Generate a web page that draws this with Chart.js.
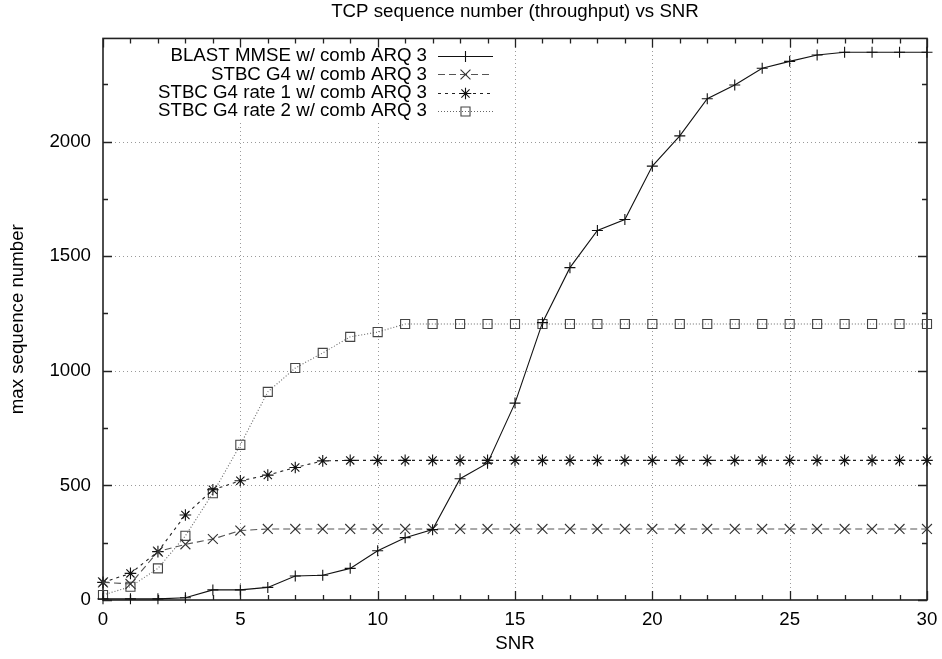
<!DOCTYPE html>
<html><head><meta charset="utf-8">
<script src="https://cdn.jsdelivr.net/npm/chart.js@4.4.1/dist/chart.umd.min.js"></script>
<style>html,body{margin:0;padding:0;background:#fff;}#wrap{width:942px;height:659px;}</style>
</head><body><div id="wrap"><canvas id="c" width="942" height="659"></canvas></div>
<script>
// ---- data ----
const snr = [0,1,2,3,4,5,6,7,8,9,10,11,12,13,14,15,16,17,18,19,20,21,22,23,24,25,26,27,28,29,30];
const blastMmse = [5,5,5,10,44,44,55,105,108,138,215,272,307,529,597,859,1210,1450,1612,1660,1893,2025,2187,2247,2320,2350,2378,2390,2390,2390,2390];
const stbcG4 = [77,70,211,243,266,303,310,310,310,310,310,310,310,310,310,310,310,310,310,310,310,310,310,310,310,310,310,310,310,310,310];
const stbcG4Rate1 = [77,116,211,371,481,520,545,578,607,609,609,609,609,609,609,609,609,609,609,609,609,609,609,609,609,609,609,609,609,609,609];
const stbcG4Rate2 = [22,58,138,280,466,677,908,1012,1078,1148,1169,1204,1204,1204,1204,1204,1204,1204,1204,1204,1204,1204,1204,1204,1204,1204,1204,1204,1204,1204,1204];
const seriesNames = ['BLAST MMSE w/ comb ARQ 3','STBC G4 w/ comb ARQ 3','STBC G4 rate 1 w/ comb ARQ 3','STBC G4 rate 2 w/ comb ARQ 3'];
const xTicks = [0,5,10,15,20,25,30];
const yTicks = [0,500,1000,1500,2000];
const xMinorTicks = [1,2,3,4,6,7,8,9,11,12,13,14,16,17,18,19,21,22,23,24,26,27,28,29];
const yMinorTicks = [250,750,1250,1750,2250];
const titleText = 'TCP sequence number (throughput) vs SNR';
const xTitle = 'SNR';
const yTitle = 'max sequence number';

const FONT = "'Liberation Sans', Arial, Helvetica, sans-serif";
const FS = 18.7;
const toXY = arr => arr.map((v,i)=>({x:snr[i], y:v}));

const styles = [
  {line:'#111', pt:'#111', dash:[], pointStyle:'cross', r:5.5},
  {line:'#555', pt:'#333', dash:[7,4], pointStyle:'crossRot', r:7},
  {line:'#222', pt:'#111', dash:[3,4], pointStyle:'star', r:5.8},
  {line:'#666', pt:'#444', dash:[1,2], pointStyle:'rect', r:6.4}
];
const seriesData = [blastMmse, stbcG4, stbcG4Rate1, stbcG4Rate2];

const datasets = seriesData.map((d,i)=>({
  label: seriesNames[i],
  data: toXY(d),
  borderColor: styles[i].line,
  borderWidth: 1.1,
  borderDash: styles[i].dash,
  pointStyle: styles[i].pointStyle,
  pointRadius: styles[i].r,
  pointHoverRadius: styles[i].r,
  pointBorderColor: styles[i].pt,
  pointBackgroundColor: 'rgba(0,0,0,0)',
  pointBorderWidth: 1.1,
  fill: false,
  tension: 0,
  clip: false
}));

const frame = {
  id: 'frame',
  beforeDatasetsDraw(chart) {
    const {ctx, chartArea:{left,top,right,bottom}, scales:{x,y}} = chart;
    ctx.save();
    // grid
    ctx.strokeStyle = '#9a9a9a'; ctx.lineWidth = 1; ctx.setLineDash([1,3]);
    xTicks.forEach(v=>{ if (v<=x.min||v>=x.max) return;
      const px = Math.round(x.getPixelForValue(v))+0.5;
      ctx.beginPath(); ctx.moveTo(px,bottom); ctx.lineTo(px,top); ctx.stroke(); });
    yTicks.forEach(v=>{ if (v<=y.min||v>=y.max) return;
      const py = Math.round(y.getPixelForValue(v))+0.5;
      ctx.beginPath(); ctx.moveTo(left,py); ctx.lineTo(right,py); ctx.stroke(); });
    ctx.setLineDash([]);
    // legend background
    const lgRight = left + 398, lgBottom = top + 84;
    ctx.fillStyle = '#fff';
    ctx.fillRect(left+1, top+1, lgRight-left-1, lgBottom-top-1);
    // border
    ctx.strokeStyle = '#222'; ctx.lineWidth = 1.6;
    ctx.strokeRect(left, top, right-left, bottom-top);
    // ticks
    ctx.lineWidth = 1.3;
    const tickX = (v,len)=>{ const px = Math.round(x.getPixelForValue(v))+0.5;
      ctx.beginPath(); ctx.moveTo(px,bottom); ctx.lineTo(px,bottom-len);
      ctx.moveTo(px,top); ctx.lineTo(px,top+len); ctx.stroke(); };
    const tickY = (v,len)=>{ const py = Math.round(y.getPixelForValue(v))+0.5;
      ctx.beginPath(); ctx.moveTo(left,py); ctx.lineTo(left+len,py);
      ctx.moveTo(right,py); ctx.lineTo(right-len,py); ctx.stroke(); };
    xTicks.forEach(v=>tickX(v,9)); xMinorTicks.forEach(v=>tickX(v,5));
    yTicks.forEach(v=>tickY(v,9)); yMinorTicks.forEach(v=>tickY(v,5));
    // legend
    ctx.font = FS + 'px ' + FONT; ctx.textAlign = 'right'; ctx.textBaseline = 'middle';
    ctx.fillStyle = '#000';
    const textRight = left + 324, s1 = left + 335, s2 = left + 390, sc = (s1+s2)/2;
    seriesNames.forEach((name,i)=>{
      const ly = top + 17.7 + i*18.33;
      ctx.fillText(name, textRight, ly);
      const st = styles[i];
      ctx.strokeStyle = st.line; ctx.lineWidth = 1.1; ctx.setLineDash(st.dash);
      ctx.beginPath(); ctx.moveTo(s1, Math.round(ly)+0.5); ctx.lineTo(s2, Math.round(ly)+0.5); ctx.stroke();
      ctx.setLineDash([]);
      ctx.strokeStyle = st.pt; ctx.fillStyle = 'rgba(0,0,0,0)';
      Chart.helpers.drawPoint(ctx, {pointStyle: st.pointStyle, radius: st.r, borderWidth: 1.1, rotation: 0}, sc, Math.round(ly)+0.5);
      ctx.fillStyle = '#000';
    });
    ctx.restore();
  }
};

new Chart(document.getElementById('c'), {
  type: 'line',
  data: { datasets },
  plugins: [frame],
  options: {
    responsive: false,
    animation: false,
    devicePixelRatio: 1,
    layout: { padding: { left: 0, right: 15, top: 0, bottom: 0 } },
    plugins: {
      legend: { display: false },
      tooltip: { enabled: false },
      title: { display: true, text: titleText, color: '#000', fullSize: false,
        font: { family: FONT, size: FS, weight: 'normal' }, padding: { top: 1, bottom: 15 } }
    },
    scales: {
      x: {
        type: 'linear', min: 0, max: 30,
        afterFit: s => { s.height = 59; s.paddingRight = 0; s.paddingLeft = 0; },
        afterBuildTicks: s => { s.ticks = xTicks.map(v=>({value:v})); },
        grid: { display: false, drawTicks: false, tickLength: 0 },
        border: { display: false },
        ticks: { color: '#000', font: { family: FONT, size: FS }, padding: 9, maxRotation: 0, autoSkip: false,
          callback: v => String(v) },
        title: { display: true, text: xTitle, color: '#000', font: { family: FONT, size: FS }, padding: { top: 0, bottom: 4 } }
      },
      y: {
        type: 'linear', min: 0, max: 2450,
        afterFit: s => { s.width = 103; s.paddingTop = 0; s.paddingBottom = 0; },
        afterBuildTicks: s => { s.ticks = yTicks.map(v=>({value:v})); },
        grid: { display: false, drawTicks: false, tickLength: 0 },
        border: { display: false },
        ticks: { color: '#000', font: { family: FONT, size: FS }, padding: 12, autoSkip: false,
          callback: v => String(v) },
        title: { display: true, text: yTitle, color: '#000', font: { family: FONT, size: FS }, padding: { top: 7, bottom: 0 } }
      }
    }
  }
});
</script></body></html>
